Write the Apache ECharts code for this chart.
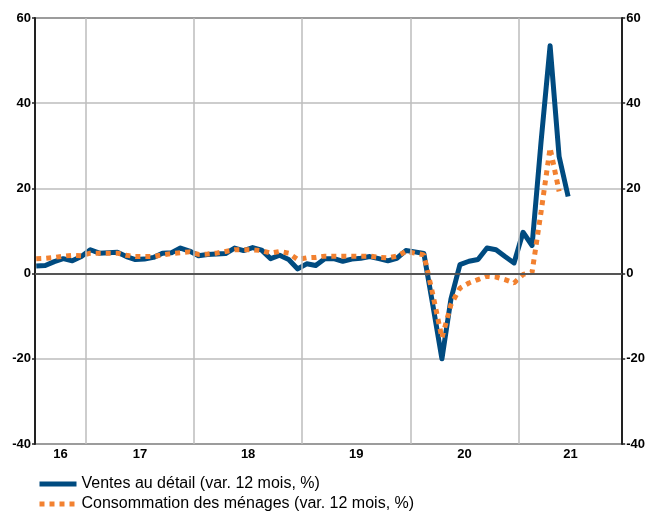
<!DOCTYPE html>
<html>
<head>
<meta charset="utf-8">
<script src="https://cdn.jsdelivr.net/npm/echarts@6/dist/echarts.min.js"></script>
<style>
html,body{margin:0;padding:0;background:#fff;}
#chart{width:648px;height:512px;}
</style>
</head>
<body>
<div id="chart"></div>
<script>
// Monthly observations, July 2016 .. June 2021
var startYear = 2016, startMonth = 7;
var retailSales = [
  1.8, 1.9, 2.8, 3.5, 3.0, 4.0,
  5.6, 4.8, 4.9, 5.0, 4.0, 3.3, 3.4, 3.8, 4.8, 4.9, 6.0, 5.3,
  4.2, 4.5, 4.6, 4.7, 6.0, 5.4, 6.1, 5.5, 3.5, 4.3, 3.3, 1.1,
  2.3, 1.9, 3.5, 3.5, 2.9, 3.4, 3.6, 4.0, 3.5, 3.0, 3.6, 5.4,
  5.1, 4.7, -7.5, -20.0, -6.0, 2.1, 2.9, 3.3, 6.0, 5.6, 4.0, 2.5,
  9.7, 6.6, 31.0, 53.5, 27.5, 18.1
];
var householdConsumption = [
  3.5, 3.6, 3.8, 4.1, 4.3, 4.2,
  4.8, 4.8, 4.8, 4.8, 4.3, 4.0, 4.0, 4.0, 4.4, 4.7, 4.9, 5.1,
  4.5, 4.6, 4.8, 5.2, 5.6, 5.6, 5.6, 5.4, 4.8, 5.2, 4.8, 3.3,
  3.7, 3.8, 4.1, 4.1, 4.1, 4.1, 4.1, 4.1, 3.8, 3.7, 4.1, 5.2,
  4.8, 4.4, -5.0, -15.1, -7.3, -3.4, -2.2, -1.4, -0.6, -0.8, -1.4, -2.2,
  -0.2, 0.3, 14.5, 29.5, 19.3
];
var yearLabels = ['16', '17', '18', '19', '20', '21'];
var yearBoundaries = [2017, 2018, 2019, 2020, 2021];
var yTicks = {min: -40, max: 60, interval: 20};
var seriesNames = ['Ventes au détail (var. 12 mois, %)', 'Consommation des ménages (var. 12 mois, %)'];

// x coordinate: months since Jan 2016; each observation sits mid-month
function monthPos(i) { return (startYear - 2016) * 12 + (startMonth - 1) + i + 0.5; }
function toPairs(arr) { return arr.map(function (v, i) { return [monthPos(i), v]; }); }
var xMin = 6.36, xMax = 71.5;
// year label positions: centre of visible part of each year
var labelPos = yearLabels.map(function (y, k) {
  var a = Math.max(k * 12, xMin), b = Math.min(k * 12 + 12, xMax);
  return (a + b) / 2;
});

var FONT = '"Liberation Sans", Arial, sans-serif';
var BLUE = '#004b80', ORANGE = '#f28130';
var legendCommon = {
  orient: 'vertical', left: 32, itemWidth: 37, itemHeight: 14, itemGap: 0,
  textStyle: {color: '#000', fontSize: 16, fontFamily: FONT},
  itemStyle: {opacity: 0},
  lineStyle: {width: 5}
};
var chart = echarts.init(document.getElementById('chart'), null, {renderer: 'canvas'});
chart.setOption({
  animation: false,
  backgroundColor: '#fff',
  grid: {left: 35, right: 24, top: 18, bottom: 68, show: true, borderColor: '#000', borderWidth: 1.5, backgroundColor: 'transparent'},
  xAxis: {
    type: 'value', min: xMin, max: xMax,
    axisLine: {show: true, lineStyle: {color: '#000', width: 1.5}},
    axisTick: {show: false},
    splitLine: {show: false},
    axisLabel: {
      customValues: labelPos,
      showMinLabel: true, showMaxLabel: true,
      formatter: function (v) {
        for (var k = 0; k < labelPos.length; k++) { if (Math.abs(labelPos[k] - v) < 0.01) return yearLabels[k]; }
        return '';
      },
      color: '#000', fontWeight: 'bold', fontSize: 13, fontFamily: FONT, margin: 4
    }
  },
  yAxis: [{
    type: 'value', position: 'left', min: yTicks.min, max: yTicks.max, interval: yTicks.interval,
    axisLine: {show: true, lineStyle: {color: '#222', width: 2}},
    axisTick: {show: true, length: 3, lineStyle: {color: '#222', width: 1.5}},
    splitLine: {show: true, lineStyle: {color: '#bdbdbd', width: 1.5}},
    axisLabel: {color: '#000', fontWeight: 'bold', fontSize: 13, fontFamily: FONT, margin: 4}
  }, {
    type: 'value', position: 'right', min: yTicks.min, max: yTicks.max, interval: yTicks.interval,
    axisLine: {show: true, lineStyle: {color: '#222', width: 2}},
    axisTick: {show: true, length: 3, lineStyle: {color: '#222', width: 1.5}},
    splitLine: {show: false},
    axisLabel: {color: '#000', fontWeight: 'bold', fontSize: 13, fontFamily: FONT, margin: 4}
  }],
  legend: [
    Object.assign({}, legendCommon, {top: 471, data: [seriesNames[0]]}),
    Object.assign({}, legendCommon, {top: 491, data: [seriesNames[1]]})
  ],
  series: [{
    type: 'line', name: '_grid', data: [], z: 1, silent: true,
    markLine: {
      silent: true, symbol: 'none', label: {show: false},
      data: yearBoundaries.map(function (y) {
        return {xAxis: (y - 2016) * 12, lineStyle: {color: '#bdbdbd', width: 1.5, type: 'solid'}};
      }).concat([{yAxis: 0, lineStyle: {color: '#555', width: 2, type: 'solid'}}])
    }
  }, {
    type: 'line', name: seriesNames[0], data: toPairs(retailSales), z: 3,
    symbol: 'none', color: BLUE,
    lineStyle: {color: BLUE, width: 5, join: 'round'}
  }, {
    type: 'line', name: seriesNames[1], data: toPairs(householdConsumption), z: 4,
    symbol: 'none', color: ORANGE,
    lineStyle: {color: ORANGE, width: 5, type: [5, 5], cap: 'butt'}
  }]
});
</script>
</body>
</html>
